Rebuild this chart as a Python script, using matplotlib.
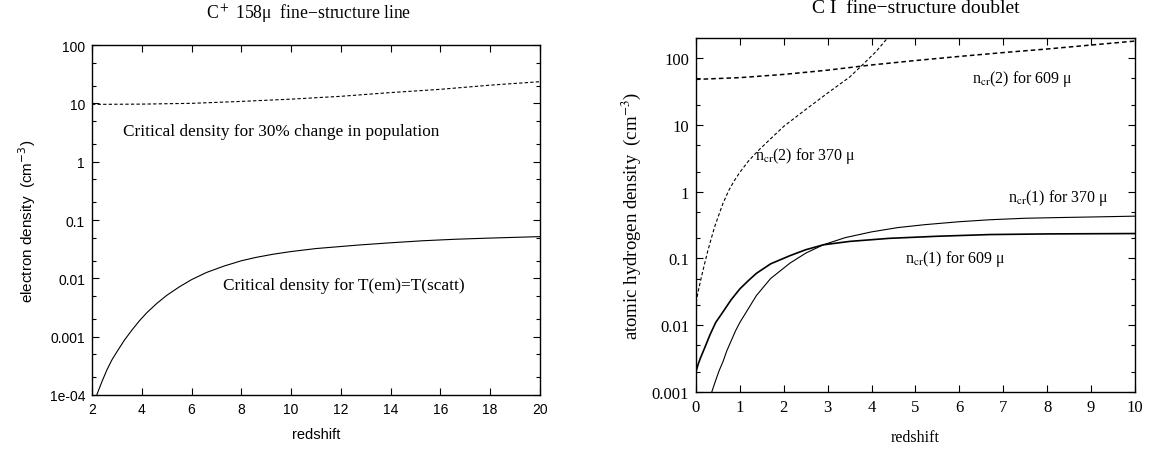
import numpy as np
import matplotlib
matplotlib.use("Agg")
import matplotlib.pyplot as plt
from matplotlib.ticker import FixedLocator, LogLocator, NullLocator, NullFormatter, FixedFormatter

# left panel: C+ 158 micron line
z_30pct = [2, 4, 6, 8, 10, 12, 14, 16, 18, 20]
n_30pct = [9.6, 9.7, 10.0, 10.8, 11.8, 13.2, 15.3, 17.4, 20.5, 23.5]

z_scatt = [2.19, 2.4, 2.6, 2.8, 3.0, 3.3, 3.6, 3.9, 4.2, 4.6, 5.0, 5.5, 6.0, 6.6, 7.3,
           8.0, 8.6, 9.3, 10, 11, 12.7, 14, 15.3, 16.6, 18, 20]
n_scatt = [1.0e-4, 1.7e-4, 2.7e-4, 4.0e-4, 5.5e-4, 8.7e-4, 1.29e-3, 1.86e-3, 2.57e-3,
           3.7e-3, 5.1e-3, 7.1e-3, 9.5e-3, 0.0126, 0.0162, 0.02, 0.0229, 0.026, 0.0288,
           0.0324, 0.0372, 0.0407, 0.0441, 0.0468, 0.049, 0.0519]

# right panel: C I doublet
z_ncr2_609 = [0, 1, 2, 3, 4, 5, 6, 7, 8, 9, 10]
n_ncr2_609 = [48, 51, 57, 66, 79, 92, 106, 121, 137, 157, 180]

z_ncr2_370 = [0, 0.05, 0.1, 0.15, 0.2, 0.27, 0.35, 0.42, 0.5, 0.62, 0.75, 0.87, 1.0, 1.2,
              1.4, 1.7, 2.0, 2.5, 3.0, 3.5, 3.8, 4.1, 4.35]
n_ncr2_370 = [0.022, 0.032, 0.045, 0.062, 0.085, 0.13, 0.2, 0.29, 0.41, 0.68, 1.05, 1.45,
              1.95, 2.9, 4.0, 6.2, 9.5, 17, 30, 52, 80, 125, 195]

z_ncr1_609 = [0, 0.05, 0.1, 0.2, 0.32, 0.45, 0.62, 0.8, 1.0, 1.2, 1.38, 1.7, 2.14, 2.5,
              2.9, 3.5, 4.4, 5.5, 6.7, 8, 10]
n_ncr1_609 = [0.002, 0.0026, 0.0032, 0.0046, 0.0072, 0.011, 0.016, 0.024, 0.035, 0.047,
              0.06, 0.083, 0.11, 0.135, 0.16, 0.18, 0.20, 0.215, 0.228, 0.233, 0.236]

z_ncr1_370 = [0.36, 0.45, 0.53, 0.62, 0.7, 0.8, 0.9, 1.0, 1.2, 1.38, 1.7, 2.14, 2.5, 2.9,
              3.4, 4.0, 4.6, 5.2, 6.0, 6.7, 7.5, 8.3, 9.2, 10]
n_ncr1_370 = [0.001, 0.0015, 0.0021, 0.0029, 0.0041, 0.0058, 0.0082, 0.011, 0.018, 0.028,
              0.05, 0.085, 0.12, 0.16, 0.205, 0.25, 0.29, 0.32, 0.355, 0.38, 0.40, 0.41,
              0.42, 0.43]

left_yticks = [1e-4, 1e-3, 1e-2, 0.1, 1, 10, 100]
left_ylabels = ["1e-04", "0.001", "0.01", "0.1", "1", "10", "100"]
right_yticks = [1e-3, 1e-2, 0.1, 1, 10, 100]
right_ylabels = ["0.001", "0.01", "0.1", "1", "10", "100"]

SANS = "Liberation Sans"
SERIF = "Liberation Serif"

fig = plt.figure(figsize=(11.53, 4.52), dpi=100)
ax1 = fig.add_axes([0.0798, 0.1239, 0.3885, 0.7743])
ax2 = fig.add_axes([0.6036, 0.1305, 0.3808, 0.7832])


def style_axes(ax, font, size, yticks, ylabels):
    ax.set_yscale("log")
    ax.yaxis.set_major_locator(FixedLocator(yticks))
    ax.yaxis.set_major_formatter(FixedFormatter(ylabels))
    ax.yaxis.set_minor_locator(LogLocator(base=10, subs=[2, 5]))
    ax.yaxis.set_minor_formatter(NullFormatter())
    ax.xaxis.set_minor_locator(NullLocator())
    ax.tick_params(which="both", direction="in", top=True, right=True, width=0.8)
    ax.tick_params(which="major", length=5, labelsize=size, pad=5)
    ax.tick_params(which="minor", length=3)
    for s in ax.spines.values():
        s.set_linewidth(1.0)
    for lab in ax.get_xticklabels() + ax.get_yticklabels():
        lab.set_fontfamily(font)


dash = (0, (3, 2))

# left
ax1.plot(z_30pct, n_30pct, color="black", lw=0.8, linestyle=dash)
ax1.plot(z_scatt, n_scatt, color="black", lw=0.8)
ax1.set_xticks(range(2, 21, 2))
style_axes(ax1, SANS, 10, left_yticks, left_ylabels)
ax1.set_xlim(2, 20)
ax1.set_ylim(1e-4, 100)
ax1.set_xlabel("redshift", fontfamily=SANS, fontsize=10.5, labelpad=8)
ax1.set_ylabel("electron density  (cm$^{-3}$)", fontfamily=SANS, fontsize=11,
               math_fontfamily="dejavusans", labelpad=8)
ax1.text(3.25, 3.4, "Critical density for 30% change in population",
         fontfamily=SERIF, fontsize=12.4, va="center", ha="left")
ax1.text(7.26, 0.0077, "Critical density for T(em)=T(scatt)",
         fontfamily=SERIF, fontsize=12.4, va="center", ha="left")
fig.text(0.268, 0.972, "C$^+$ 158\u03bc  fine\u2212structure line", fontfamily=SERIF,
         fontsize=12.7, ha="center", va="center", math_fontfamily="stix")

# right
ax2.plot(z_ncr2_609, n_ncr2_609, color="black", lw=1.1, linestyle=dash)
ax2.plot(z_ncr2_370, n_ncr2_370, color="black", lw=0.8, linestyle=dash)
ax2.plot(z_ncr1_609, n_ncr1_609, color="black", lw=1.2)
ax2.plot(z_ncr1_370, n_ncr1_370, color="black", lw=0.8)
ax2.set_xticks(range(0, 11))
style_axes(ax2, SERIF, 12, right_yticks, right_ylabels)
ax2.set_xlim(0, 10)
ax2.set_ylim(1e-3, 200)
ax2.set_xlabel("redshift", fontfamily=SERIF, fontsize=11.5, labelpad=10)
ax2.set_ylabel("atomic hydrogen density  (cm$^{-3}$)", fontfamily=SERIF, fontsize=13.5,
               math_fontfamily="stix", labelpad=6)
lbl = dict(fontfamily=SERIF, fontsize=11.5, va="center", ha="left", math_fontfamily="stix")
ax2.text(6.28, 51, "n$_{\\rm cr}$(2) for 609 \u03bc", **lbl)
ax2.text(1.34, 3.6, "n$_{\\rm cr}$(2) for 370 \u03bc", **lbl)
ax2.text(7.1, 0.84, "n$_{\\rm cr}$(1) for 370 \u03bc", **lbl)
ax2.text(4.76, 0.1, "n$_{\\rm cr}$(1) for 609 \u03bc", **lbl)
fig.text(0.794, 0.982, "C I  fine\u2212structure doublet", fontfamily=SERIF,
         fontsize=14, ha="center", va="center")

fig.savefig("out.png", dpi=100)
